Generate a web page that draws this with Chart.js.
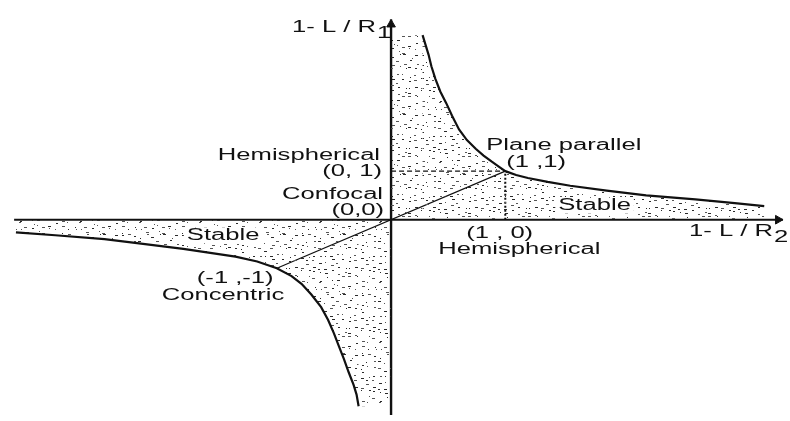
<!DOCTYPE html>
<html>
<head>
<meta charset="utf-8">
<script src="https://cdn.jsdelivr.net/npm/chart.js@4.4.1/dist/chart.umd.min.js"></script>
<style>
  html, body { margin: 0; padding: 0; background: #fff; }
  #wrap { width: 790px; height: 421px; }
</style>
</head>
<body>
<div id="wrap"><canvas id="c"></canvas></div>
<script>
// upper branch of g1*g2 = 1 (first quadrant)
const upperG1 = [0.276, 0.302, 0.328, 0.353, 0.388, 0.431, 0.483, 0.534, 0.595, 0.664, 0.741, 0.810,
                 0.879, 0.940, 1.0, 1.095, 1.198, 1.371, 1.569, 1.888, 2.233, 2.664, 3.009, 3.267];
const upperG2 = [3.80, 3.60, 3.40, 3.16, 2.90, 2.64, 2.40, 2.14, 1.86, 1.64, 1.46, 1.32,
                 1.20, 1.10, 1.0, 0.92, 0.86, 0.78, 0.70, 0.60, 0.50, 0.42, 0.34, 0.28];

// lower branch of g1*g2 = 1 (third quadrant)
const lowerG1 = [-3.284, -2.940, -2.509, -2.224, -1.819, -1.362, -1.172, -1.0, -0.871, -0.784,
                 -0.698, -0.612, -0.552, -0.500, -0.457, -0.414, -0.371, -0.328, -0.302, -0.284];
const lowerG2 = [-0.26, -0.32, -0.40, -0.48, -0.60, -0.76, -0.86, -1.0, -1.16, -1.32,
                 -1.54, -1.80, -2.06, -2.34, -2.60, -2.86, -3.14, -3.40, -3.60, -3.84];

// special resonators
const planeParallel = [1, 1];
const concentric = [-1, -1];
const hemiG1 = [1, 0];
const hemiG2 = [0, 1];
const confocal = [0, 0];

// axis extents
const g1Range = [-3.371, 3.440];
const g2Range = [-4.02, 4.40];
const g1AxisEnds = [-3.30, 3.43];
const g2AxisEnds = [-4.02, 4.12];

const labels = [
  { text: '1- L / R', sub: '1', at: [0, g2AxisEnds[1]], dx: -15, dy: 8, align: 'right' },
  { text: '1- L / R', sub: '2', at: [g1Range[1], 0], dx: -95, dy: 12, align: 'left' },
  { text: 'Hemispherical', at: hemiG2, dx: -11, dy: -16, align: 'right' },
  { text: '(0, 1)', at: hemiG2, dx: -9, dy: 0, align: 'right' },
  { text: 'Confocal', at: confocal, dx: -8, dy: -25, align: 'right' },
  { text: '(0,0)', at: confocal, dx: -7, dy: -9, align: 'right' },
  { text: 'Plane parallel', at: planeParallel, dx: -19, dy: -26, align: 'left' },
  { text: '(1 ,1)', at: planeParallel, dx: 1, dy: -9, align: 'left' },
  { text: '(1 , 0)', at: hemiG1, dx: -39, dy: 14, align: 'left' },
  { text: 'Hemispherical', at: hemiG1, dx: -67, dy: 30, align: 'left' },
  { text: 'Stable', at: hemiG1, dx: 53, dy: -14, align: 'left', clear: true },
  { text: 'Stable', at: concentric, dx: -90, dy: -33, align: 'left', clear: true },
  { text: '(-1 ,-1)', at: concentric, dx: -80, dy: 10, align: 'left' },
  { text: 'Concentric', at: concentric, dx: -115, dy: 27, align: 'left' }
];

const INK = '#111';
const STRETCH = 1.6;

const canvas = document.getElementById('c');
const ctx2d = canvas.getContext('2d');

// stippled texture for the stable zones: one short dash per jittered cell
function stipple() {
  const size = 60, cell = 6;
  const tile = document.createElement('canvas');
  tile.width = size; tile.height = size;
  const g = tile.getContext('2d');
  let s = 0x9e3779b9;
  const next = () => {
    s |= 0; s = s + 0x6d2b79f5 | 0;
    let t = Math.imul(s ^ s >>> 15, 1 | s);
    t = t + Math.imul(t ^ t >>> 7, 61 | t) ^ t;
    return ((t ^ t >>> 14) >>> 0) / 4294967296;
  };
  for (let cy = 0; cy < size; cy += cell) {
    for (let cx = 0; cx < size; cx += cell) {
      const w = 1 + Math.floor(next() * 3);
      g.fillStyle = next() < 0.5 ? '#2a2a2a' : '#555';
      g.fillRect(cx + Math.floor(next() * (cell - w)), cy + Math.floor(next() * cell), w, 1);
    }
  }
  return ctx2d.createPattern(tile, 'repeat');
}
const dots = stipple();

const pts = (xs, ys) => xs.map((v, i) => ({ x: v, y: ys[i] }));

// stable zone outlines, closed to g2 = 0 by the filler
const upperZone = [{ x: 0, y: upperG2[0] }].concat(pts(upperG1, upperG2));
const lowerZone = pts(lowerG1, lowerG2).concat([{ x: 0, y: lowerG2[lowerG2.length - 1] }]);

const line = (data, extra) => Object.assign({
  data: data, borderColor: INK, borderWidth: 1.2, pointRadius: 0, fill: false, tension: 0
}, extra);

const datasets = [
  line(upperZone, {
    fill: 'origin', backgroundColor: dots, borderWidth: 2.2,
    segment: { borderColor: c => c.p0DataIndex === 0 ? 'rgba(0,0,0,0)' : INK }
  }),
  line(lowerZone, {
    fill: 'origin', backgroundColor: dots, borderWidth: 2.2,
    segment: { borderColor: c => c.p1DataIndex === lowerZone.length - 1 ? 'rgba(0,0,0,0)' : INK }
  }),
  // axes
  line([{ x: g1AxisEnds[0], y: 0 }, { x: g1AxisEnds[1], y: 0 }], { borderWidth: 2 }),
  line([{ x: 0, y: g2AxisEnds[0] }, { x: 0, y: g2AxisEnds[1] }], { borderWidth: 2.4 }),
  // guides to the special resonators
  line([{ x: hemiG2[0], y: hemiG2[1] }, { x: planeParallel[0], y: planeParallel[1] }], { borderWidth: 1.3, borderDash: [5, 3] }),
  line([{ x: hemiG1[0], y: hemiG1[1] }, { x: planeParallel[0], y: planeParallel[1] }], { borderWidth: 2, borderDash: [2, 2] }),
  line([{ x: concentric[0], y: concentric[1] }, { x: planeParallel[0], y: planeParallel[1] }], { borderWidth: 1.2 }),
  // arrow heads
  { data: [{ x: 0, y: 4.02 }], showLine: false, pointStyle: 'triangle', pointRadius: 5,
    pointBackgroundColor: INK, pointBorderColor: INK, pointBorderWidth: 1 },
  { data: [{ x: 3.388, y: 0 }], showLine: false, pointStyle: 'triangle', pointRadius: 5, pointRotation: 90,
    pointBackgroundColor: INK, pointBorderColor: INK, pointBorderWidth: 1 }
];

const labelPlugin = {
  id: 'diagramLabels',
  afterDatasetsDraw(chart) {
    const { ctx, scales: { x, y } } = chart;
    ctx.save();
    ctx.font = '16px "Liberation Sans", Arial, sans-serif';
    ctx.textBaseline = 'middle';
    ctx.textAlign = 'left';
    const put = (txt, left, py) => {
      ctx.save();
      ctx.translate(left, py);
      ctx.scale(STRETCH, 1);
      ctx.fillText(txt, 0, 0);
      ctx.restore();
    };
    labels.forEach(l => {
      const px = x.getPixelForValue(l.at[0]) + l.dx;
      const py = y.getPixelForValue(l.at[1]) + l.dy;
      const w = ctx.measureText(l.text).width * STRETCH;
      const left = l.align === 'right' ? px - w : px;
      if (l.clear) {
        ctx.fillStyle = '#fff';
        ctx.fillRect(left - 3, py - 8, w + 6, 16);
      }
      ctx.fillStyle = INK;
      put(l.text, left, py);
      if (l.sub) put(l.sub, left + w + 1, py + 6);
    });
    ctx.restore();
  }
};

new Chart(canvas, {
  type: 'line',
  data: { datasets: datasets },
  options: {
    responsive: true,
    maintainAspectRatio: false,
    animation: false,
    layout: { padding: 0 },
    plugins: { legend: { display: false }, tooltip: { enabled: false } },
    scales: {
      x: { type: 'linear', display: false, min: g1Range[0], max: g1Range[1] },
      y: { type: 'linear', display: false, min: g2Range[0], max: g2Range[1] }
    }
  },
  plugins: [labelPlugin]
});
</script>
</body>
</html>
